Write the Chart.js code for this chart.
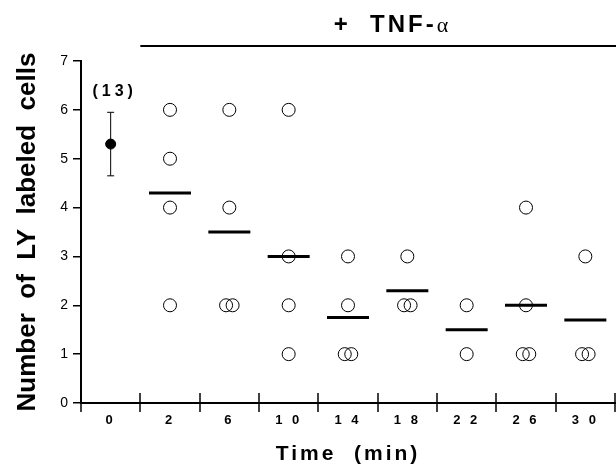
<!DOCTYPE html>
<html>
<head>
<meta charset="utf-8">
<script src="https://cdn.jsdelivr.net/npm/chart.js@4"></script>
<style>
  html, body { margin: 0; padding: 0; background: #fff; }
  #wrap { width: 616px; height: 471px; }
</style>
</head>
<body>
<div id="wrap"><canvas id="lyChart" width="616" height="471"></canvas></div>
<script>
// time points (min), first one is the control
const timeLabels = ['0', '2', '6', '10', '14', '18', '22', '26', '30'];

// control: mean +- error, n
const controlMean = 5.3;
const controlLow = 4.65;
const controlHigh = 5.95;
const controlN = 13;

// individual experiments after TNF-alpha
const cellCounts = [
    [],
    [6, 5, 4, 2],
    [6, 4, 2, 2],
    [6, 3, 2, 1],
    [3, 2, 1, 1],
    [3, 2, 2],
    [2, 1],
    [4, 2, 1, 1],
    [3, 1, 1]
];

// mean bars
const meanCounts = [null, 4.3, 3.5, 3.0, 1.75, 2.3, 1.5, 2.0, 1.7];

const yTicks = [0, 1, 2, 3, 4, 5, 6, 7];

const yTitle = 'Number  of  LY  labeled  cells';

const FONT = "'Liberation Sans', Arial, Helvetica, sans-serif";

// same values in one group -> spread them a little so both circles show
const circlePoints = [];
cellCounts.forEach((vals, i) => {
    const seen = {};
    vals.forEach(v => { seen[v] = (seen[v] || 0) + 1; });
    const used = {};
    vals.forEach(v => {
        const n = seen[v];
        const k = used[v] || 0;
        used[v] = k + 1;
        const shift = n > 1 ? (k - (n - 1) / 2) * 0.11 : 0;
        circlePoints.push({ x: i + shift, y: v });
    });
});

const meanPoints = meanCounts
    .map((m, i) => m === null ? null : { x: i, y: m })
    .filter(p => p);

// extra drawing: crossing ticks on the x axis, treatment bar, n label, y title
const extras = {
    id: 'extras',
    beforeDraw(chart) {
        chart.ctx.letterSpacing = '3px';
    },
    afterDraw(chart) {
        const { ctx, chartArea } = chart;
        const xs = chart.scales.x;
        const ys = chart.scales.y;
        ctx.save();
        ctx.strokeStyle = '#000';
        ctx.lineWidth = 1.5;
        for (let i = 0; i <= timeLabels.length; i++) {
            const px = Math.round(xs.getPixelForValue(i - 0.5));
            ctx.beginPath();
            ctx.moveTo(px, chartArea.bottom - 10);
            ctx.lineTo(px, chartArea.bottom + 9);
            ctx.stroke();
        }

        // + TNF-a bar
        const barY = chartArea.top - 15;
        ctx.lineWidth = 2;
        ctx.beginPath();
        ctx.moveTo(xs.getPixelForValue(0.5), barY);
        ctx.lineTo(chart.width, barY);
        ctx.stroke();

        ctx.fillStyle = '#000';
        ctx.textBaseline = 'alphabetic';
        ctx.textAlign = 'left';
        ctx.letterSpacing = '3px';
        ctx.font = 'bold 24px ' + FONT;
        const t1 = '+  TNF-';
        const w1 = ctx.measureText(t1).width;
        ctx.font = "22px 'Liberation Serif', serif";
        ctx.letterSpacing = '0px';
        const w2 = ctx.measureText('\u03b1').width;
        const startX = 391 - (w1 + w2) / 2;
        ctx.font = 'bold 24px ' + FONT;
        ctx.letterSpacing = '3px';
        ctx.fillText(t1, startX, barY - 14);
        ctx.font = "22px 'Liberation Serif', serif";
        ctx.letterSpacing = '0px';
        ctx.fillText('\u03b1', startX + w1, barY - 14);

        // (n) above control
        ctx.font = 'bold 16px ' + FONT;
        ctx.letterSpacing = '4px';
        ctx.textAlign = 'center';
        ctx.fillText('(' + controlN + ')', xs.getPixelForValue(0) + 4, ys.getPixelForValue(controlHigh) - 16);

        // y axis title
        ctx.letterSpacing = '0px';
        ctx.font = 'bold 26px ' + FONT;
        ctx.translate(35, (chartArea.top + chartArea.bottom) / 2);
        ctx.rotate(-Math.PI / 2);
        ctx.fillText(yTitle, 0, 0);
        ctx.restore();
        ctx.letterSpacing = '0px';
    }
};

new Chart(document.getElementById('lyChart'), {
    type: 'scatter',
    data: {
        datasets: [
            {
                label: 'mean',
                data: meanPoints,
                pointStyle: 'line',
                pointRadius: 21,
                pointBorderWidth: 3,
                borderColor: '#000',
                backgroundColor: '#000'
            },
            {
                label: 'control',
                data: [{ x: 0, y: controlMean }],
                pointRadius: 5,
                pointBorderWidth: 1,
                borderColor: '#000',
                backgroundColor: '#000'
            },
            {
                label: 'error',
                data: [{ x: 0, y: controlLow }, { x: 0, y: controlHigh }],
                showLine: true,
                borderWidth: 1,
                borderColor: '#000',
                pointStyle: 'line',
                pointRadius: 3.5,
                pointBorderWidth: 1
            },
            {
                label: 'cells',
                data: circlePoints,
                pointRadius: 6.5,
                pointBorderWidth: 1,
                borderColor: '#000',
                backgroundColor: 'rgba(0,0,0,0)'
            }
        ]
    },
    options: {
        responsive: false,
        devicePixelRatio: 1,
        animation: false,
        events: [],
        layout: { autoPadding: false, padding: { top: 61, right: 1, left: 0, bottom: 0 } },
        plugins: {
            legend: { display: false },
            tooltip: { enabled: false }
        },
        scales: {
            x: {
                type: 'linear',
                min: -0.5,
                max: 8.5,
                afterBuildTicks: (s) => { s.ticks = timeLabels.map((_, i) => ({ value: i })); },
                afterFit: (s) => { s.height = 68; s.paddingLeft = 0; s.paddingRight = 0; },
                grid: { display: false, drawTicks: false },
                border: { color: '#000', width: 2 },
                ticks: {
                    color: '#000',
                    padding: 10,
                    maxRotation: 0,
                    autoSkip: false,
                    font: { family: FONT, size: 13, weight: 'bold' },
                    // digits set apart like the original typesetting
                    callback: (v) => timeLabels[v].split('').join(' ')
                },
                title: {
                    display: true,
                    text: 'Time  (min)',
                    color: '#000',
                    font: { family: FONT, size: 21, weight: 'bold' },
                    padding: { top: 0, bottom: 4 }
                }
            },
            y: {
                min: 0,
                max: 7,
                afterBuildTicks: (s) => { s.ticks = yTicks.map(v => ({ value: v })); },
                afterFit: (s) => { s.width = 81; s.paddingTop = 0; s.paddingBottom = 0; },
                grid: { drawOnChartArea: false, drawTicks: true, tickLength: 8, color: '#000', lineWidth: 1.5 },
                border: { color: '#000', width: 2 },
                ticks: {
                    color: '#000',
                    padding: 2,
                    font: { family: FONT, size: 14 }
                }
            }
        }
    },
    plugins: [extras]
});
</script>
</body>
</html>
